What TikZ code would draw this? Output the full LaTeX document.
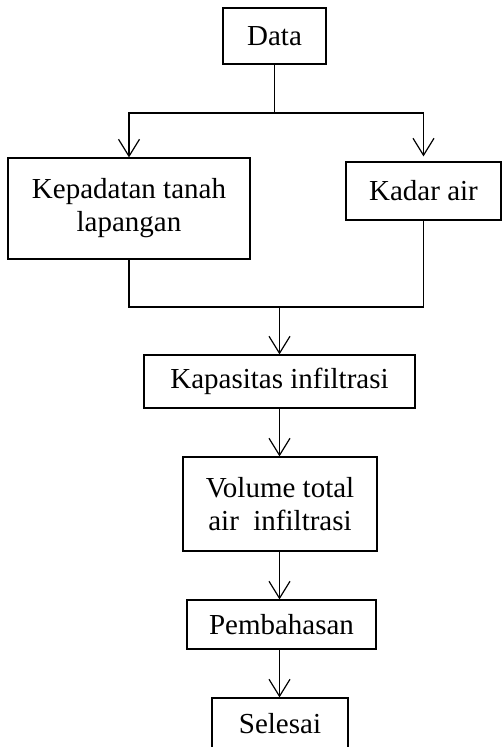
\documentclass[tikz,border=0pt]{standalone}
\usepackage{fontspec}
\setmainfont{Liberation Serif}
\usetikzlibrary{arrows.meta}
\begin{document}
\begin{tikzpicture}[x=1pt,y=-1pt,
  box/.style={draw,line width=1.2pt,inner sep=0pt,align=center,
    font=\fontsize{29}{33}\selectfont},
  link/.style={line width=1.2pt},
  arr/.style={line width=1.2pt,-{Straight Barb[length=17pt,width=21pt,line width=1.2pt]}}]
\useasboundingbox (0,0) rectangle (502,747);
\node[box,minimum width=103pt,minimum height=56pt] (data) at (274.5,36) {Data};
\node[box,minimum width=242pt,minimum height=101pt] (kep) at (129,208.5) {Kepadatan tanah\\lapangan};
\node[box,minimum width=155pt,minimum height=58pt] (kad) at (423.5,191) {Kadar air};
\node[box,minimum width=271pt,minimum height=53pt] (kap) at (279.5,381.5) {Kapasitas infiltrasi};
\node[box,minimum width=194pt,minimum height=94pt] (vol) at (280,504) {Volume total\\air\ \ infiltrasi};
\node[box,minimum width=189pt,minimum height=49pt] (pem) at (281.5,624.5) {Pembahasan};
\node[box,minimum width=136pt,minimum height=52pt] (sel) at (280,724) {Selesai};
\coordinate (j1) at (274.5,113);
\coordinate (j2) at (279.5,307);
\draw[link] (data.south) -- (j1);
\draw[arr] (j1) -| (kep.north);
\draw[arr] (j1) -| ([yshift=5pt]kad.north);
\draw[link] (kep.south) |- (j2);
\draw[link] (kad.south) |- (j2);
\draw[arr] (j2) -- (j2 |- kap.north);
\draw[arr] (kap.south) -- (kap.south |- vol.north);
\draw[arr] (kap.south |- vol.south) -- (kap.south |- pem.north);
\draw[arr] (kap.south |- pem.south) -- (kap.south |- sel.north);
\end{tikzpicture}
\end{document}
